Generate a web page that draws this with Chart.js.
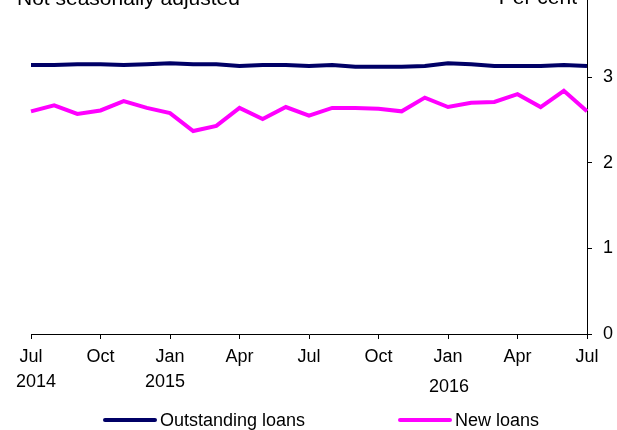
<!DOCTYPE html>
<html>
<head>
<meta charset="utf-8">
<script src="https://cdn.jsdelivr.net/npm/chart.js@4"></script>
<style>
  html, body { margin: 0; padding: 0; background: #fff; }
  #wrap { position: relative; width: 617px; height: 430px; overflow: hidden; }
  #legend { position: absolute; left: 0; top: 409px; width: 617px; height: 22px;
            font: 18px "Liberation Sans", Arial, sans-serif; color: #000; }
  .item { position: absolute; top: 0; line-height: 22px; white-space: nowrap; }
  .swatch { display: inline-block; width: 54px; height: 4px; border-radius: 2px;
            vertical-align: middle; margin-right: 3px; position: relative; top: -1px; }
</style>
</head>
<body>
<div id="wrap">
  <canvas id="chart" width="617" height="430"></canvas>
  <div id="legend"></div>
</div>
<script>
// Monthly, Jul 2014 .. Jul 2016
const months = ['Jul', 'Aug', 'Sep', 'Oct', 'Nov', 'Dec', 'Jan', 'Feb', 'Mar', 'Apr', 'May', 'Jun',
                'Jul', 'Aug', 'Sep', 'Oct', 'Nov', 'Dec', 'Jan', 'Feb', 'Mar', 'Apr', 'May', 'Jun', 'Jul'];
const outstandingLoans = [3.14, 3.14, 3.15, 3.15, 3.14, 3.15, 3.16, 3.15, 3.15, 3.13, 3.14, 3.14,
                          3.13, 3.14, 3.12, 3.12, 3.12, 3.13, 3.16, 3.15, 3.13, 3.13, 3.13, 3.14, 3.13];
const newLoans = [2.60, 2.67, 2.57, 2.61, 2.72, 2.64, 2.58, 2.37, 2.43, 2.64, 2.51, 2.65,
                  2.55, 2.64, 2.64, 2.63, 2.60, 2.76, 2.65, 2.70, 2.71, 2.80, 2.65, 2.84, 2.60];
const yearLabels = ['2014', '2015', '2016'];
const yearAt = [0, 6, 18];
const yTicks = [0, 1, 2, 3];

const seriesNames = ['Outstanding loans', 'New loans'];
const seriesColors = ['#000066', '#ff00ff'];

const FONT = '"Liberation Sans", Arial, sans-serif';

// year row under the month labels + the header texts
const extraText = {
    id: 'extraText',
    afterDraw(chart) {
        const ctx = chart.ctx;
        const xs = chart.scales.x;
        const shift = [5, -5, 1];
        ctx.save();
        ctx.fillStyle = '#000';
        ctx.font = '18px ' + FONT;
        ctx.textAlign = 'center';
        ctx.textBaseline = 'middle';
        for (let i = 0; i < yearLabels.length; i++) {
            const yy = i === 2 ? 387 : 382;
            ctx.fillText(yearLabels[i], xs.getPixelForValue(yearAt[i]) + shift[i], yy);
        }
        ctx.font = '21px ' + FONT;
        ctx.textBaseline = 'alphabetic';
        ctx.textAlign = 'left';
        ctx.fillText('Not seasonally adjusted', 17, 5);
        ctx.textAlign = 'right';
        ctx.fillText('Per cent', 577, 4);
        ctx.restore();
    }
};

const ctx = document.getElementById('chart').getContext('2d');
new Chart(ctx, {
    type: 'line',
    data: {
        labels: months,
        datasets: [
            { label: seriesNames[0], data: outstandingLoans, borderColor: seriesColors[0],
              backgroundColor: seriesColors[0], borderWidth: 4, pointRadius: 0, tension: 0 },
            { label: seriesNames[1], data: newLoans, borderColor: seriesColors[1],
              backgroundColor: seriesColors[1], borderWidth: 4, pointRadius: 0, tension: 0 }
        ]
    },
    options: {
        responsive: false,
        animation: false,
        layout: { padding: { left: 31, right: 0, top: 0, bottom: 0 } },
        plugins: { legend: { display: false }, tooltip: { enabled: false } },
        scales: {
            x: {
                offset: false,
                grid: { offset: false, drawOnChartArea: false, tickLength: 5, color: '#000', tickColor: '#000' },
                border: { display: true, color: '#000', width: 1 },
                ticks: {
                    autoSkip: false, maxRotation: 0, minRotation: 0, padding: 7, color: '#000',
                    font: { size: 18, family: FONT },
                    callback: function(v, i) { return i % 3 === 0 ? months[i] : null; }
                },
                afterFit: function(s) { s.height = 96; s.paddingLeft = 0; s.paddingRight = 0; }
            },
            y: {
                position: 'right',
                min: 0,
                max: 3.9,
                grid: { drawOnChartArea: false, tickLength: 5, color: '#000', tickColor: '#000' },
                border: { display: true, color: '#000', width: 1 },
                ticks: {
                    stepSize: 1, padding: 11, color: '#000',
                    font: { size: 18, family: FONT },
                    callback: function(v) { return yTicks.includes(v) ? v : null; }
                },
                afterFit: function(s) { s.width = 30; s.paddingTop = 0; s.paddingBottom = 0; }
            }
        }
    },
    plugins: [extraText]
});

// legend below the axis
const legendLeft = [103, 398];
const legend = document.getElementById('legend');
for (let i = 0; i < seriesNames.length; i++) {
    const item = document.createElement('div');
    item.className = 'item';
    item.style.left = legendLeft[i] + 'px';
    item.innerHTML = `<span class="swatch" style="background:${seriesColors[i]}"></span>${seriesNames[i]}`;
    legend.appendChild(item);
}
</script>
</body>
</html>
